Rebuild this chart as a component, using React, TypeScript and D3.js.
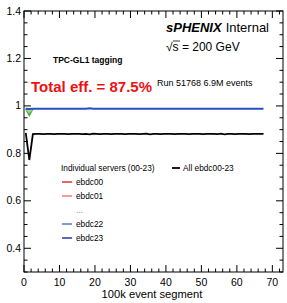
import React from "react";
import * as d3 from "d3";

const W = 287, H = 303;
const M = { left: 24, right: 283, top: 11, bottom: 272 };

const xDomain = [0, 73];
const yDomain = [0.3, 1.4];
const xTicks = [0, 10, 20, 30, 40, 50, 60, 70];
const yTicks = [0.4, 0.6, 0.8, 1.0, 1.2, 1.4];
const yTickLabels = ["0.4", "0.6", "0.8", "1", "1.2", "1.4"];

// efficiency of all ebdc00-23 per 100k event segment
const allEff = [
  0.886, 0.772, 0.881, 0.882, 0.882, 0.881, 0.882, 0.882, 0.881, 0.882,
  0.882, 0.882, 0.881, 0.882, 0.882, 0.882, 0.881, 0.882, 0.880, 0.883,
  0.882, 0.881, 0.882, 0.882, 0.881, 0.882, 0.882, 0.882, 0.881, 0.882,
  0.882, 0.882, 0.881, 0.882, 0.883, 0.880, 0.882, 0.882, 0.881, 0.882,
  0.882, 0.882, 0.881, 0.882, 0.882, 0.882, 0.881, 0.882, 0.882, 0.882,
  0.881, 0.882, 0.882, 0.882, 0.881, 0.883, 0.880, 0.882, 0.882, 0.881,
  0.882, 0.882, 0.882, 0.881, 0.882, 0.882, 0.882, 0.882,
];
// ebdc23 (blue, drawn on top of others)
const ebdc23 = [
  0.988, 0.987, 0.988, 0.988, 0.988, 0.988, 0.988, 0.988, 0.988, 0.988,
  0.988, 0.988, 0.988, 0.988, 0.988, 0.988, 0.988, 0.988, 0.990, 0.988,
  0.988, 0.988, 0.988, 0.988, 0.988, 0.988, 0.988, 0.988, 0.988, 0.988,
  0.988, 0.988, 0.988, 0.988, 0.988, 0.988, 0.988, 0.988, 0.988, 0.988,
  0.988, 0.988, 0.988, 0.988, 0.988, 0.988, 0.988, 0.988, 0.988, 0.988,
  0.988, 0.988, 0.988, 0.988, 0.988, 0.988, 0.988, 0.988, 0.988, 0.988,
  0.988, 0.988, 0.988, 0.988, 0.988, 0.988, 0.988, 0.988,
];
// first segments of a few middle servers (dip at segment 1)
const greenServers = [
  [0.988, 0.960, 0.988],
  [0.988, 0.966, 0.988],
  [0.988, 0.972, 0.988],
  [0.988, 0.978, 0.988],
];

const legendItems = ["ebdc00", "ebdc01", "...", "ebdc22", "ebdc23"];
const legendColors = ["#e8302a", "#f08078", "", "#5577d0", "#2438a8"];

const FONT = "'Liberation Sans', Arial, Helvetica, sans-serif";

export default function App() {
  const x = d3.scaleLinear().domain(xDomain).range([M.left, M.right]);
  const y = d3.scaleLinear().domain(yDomain).range([M.bottom, M.top]);
  const line = d3
    .line<number>()
    .x((_, i) => x(i + 0.5))
    .y((d) => y(d));

  const xMinor = d3.range(0, 73.01, 2).filter((v) => v % 10 !== 0);
  const yMinor = d3.range(0.3, 1.401, 0.05).filter(
    (v) => !yTicks.some((t) => Math.abs(t - v) < 1e-6)
  );

  const majLen = 7, minLen = 3.5;

  return (
    <svg
      width={W}
      height={H}
      style={{ position: "absolute", left: 0, top: 0, background: "#fff" }}
      fontFamily={FONT}
    >
      <rect x={0} y={0} width={W} height={H} fill="#fff" />
      {/* frame */}
      <rect
        x={M.left}
        y={M.top}
        width={M.right - M.left}
        height={M.bottom - M.top}
        fill="none"
        stroke="#000"
        strokeWidth={1}
      />
      {/* x ticks bottom & top */}
      {xTicks.map((t) => (
        <g key={"xt" + t}>
          <line x1={x(t)} x2={x(t)} y1={M.bottom} y2={M.bottom - majLen} stroke="#000" />
          <line x1={x(t)} x2={x(t)} y1={M.top} y2={M.top + majLen} stroke="#000" />
          <text x={x(t)} y={286} fontSize={10.5} textAnchor="middle" fill="#000">
            {t}
          </text>
        </g>
      ))}
      {xMinor.map((t) => (
        <g key={"xm" + t}>
          <line x1={x(t)} x2={x(t)} y1={M.bottom} y2={M.bottom - minLen} stroke="#000" />
          <line x1={x(t)} x2={x(t)} y1={M.top} y2={M.top + minLen} stroke="#000" />
        </g>
      ))}
      {/* y ticks left & right */}
      {yTicks.map((t, i) => (
        <g key={"yt" + t}>
          <line x1={M.left} x2={M.left + majLen} y1={y(t)} y2={y(t)} stroke="#000" />
          <line x1={M.right} x2={M.right - majLen} y1={y(t)} y2={y(t)} stroke="#000" />
          <text x={21} y={y(t) + 3.5} fontSize={10.5} textAnchor="end" fill="#000">
            {yTickLabels[i]}
          </text>
        </g>
      ))}
      {yMinor.map((t) => (
        <g key={"ym" + t}>
          <line x1={M.left} x2={M.left + minLen} y1={y(t)} y2={y(t)} stroke="#000" />
          <line x1={M.right} x2={M.right - minLen} y1={y(t)} y2={y(t)} stroke="#000" />
        </g>
      ))}
      {/* axis title */}
      <text x={152} y={298} fontSize={11.2} textAnchor="middle" fill="#000">
        100k event segment
      </text>

      {/* data */}
      {greenServers.map((s, i) => (
        <path
          key={"g" + i}
          d={line(s) || ""}
          fill="none"
          stroke={i < 2 ? "#3aa84a" : "#9ad27a"}
          strokeWidth={1.5}
        />
      ))}
      <path d={line(ebdc23) || ""} fill="none" stroke="#2a4fc0" strokeWidth={2} />
      <path d={line(allEff) || ""} fill="none" stroke="#000" strokeWidth={1.8} />

      {/* texts */}
      <text x={166} y={32} fontSize={13} fill="#000">
        <tspan fontWeight="bold" fontStyle="italic">sPHENIX</tspan>
        <tspan dx={4}>Internal</tspan>
      </text>
      <text x={166} y={51} fontSize={12} fill="#000">
        √s = 200 GeV
      </text>
      <line x1={173} x2={180} y1={41} y2={41} stroke="#000" strokeWidth={0.8} />
      <text x={53} y={63} fontSize={8.5} fontWeight="bold" fill="#000">
        TPC-GL1 tagging
      </text>
      <text x={31} y={92} fontSize={15} fontWeight="bold" fill="#ee1111">
        Total eff. = 87.5%
      </text>
      <text x={157} y={86} fontSize={9} fill="#000">
        Run 51768 6.9M events
      </text>

      {/* legend */}
      <text x={61} y={171} fontSize={8.3} fill="#000">
        Individual servers (00-23)
      </text>
      <line x1={172} x2={180} y1={168} y2={168} stroke="#000" strokeWidth={1.8} />
      <text x={183} y={171} fontSize={8.3} fill="#000">
        All ebdc00-23
      </text>
      {legendItems.map((lab, i) => {
        const cy = 182 + i * 14;
        return (
          <g key={lab}>
            {legendColors[i] && (
              <line x1={62} x2={72} y1={cy} y2={cy} stroke={legendColors[i]} strokeWidth={1.5} />
            )}
            <text x={76} y={cy + 3} fontSize={8.3} fill={lab === "..." ? "#888" : "#000"}>
              {lab}
            </text>
          </g>
        );
      })}
    </svg>
  );
}
